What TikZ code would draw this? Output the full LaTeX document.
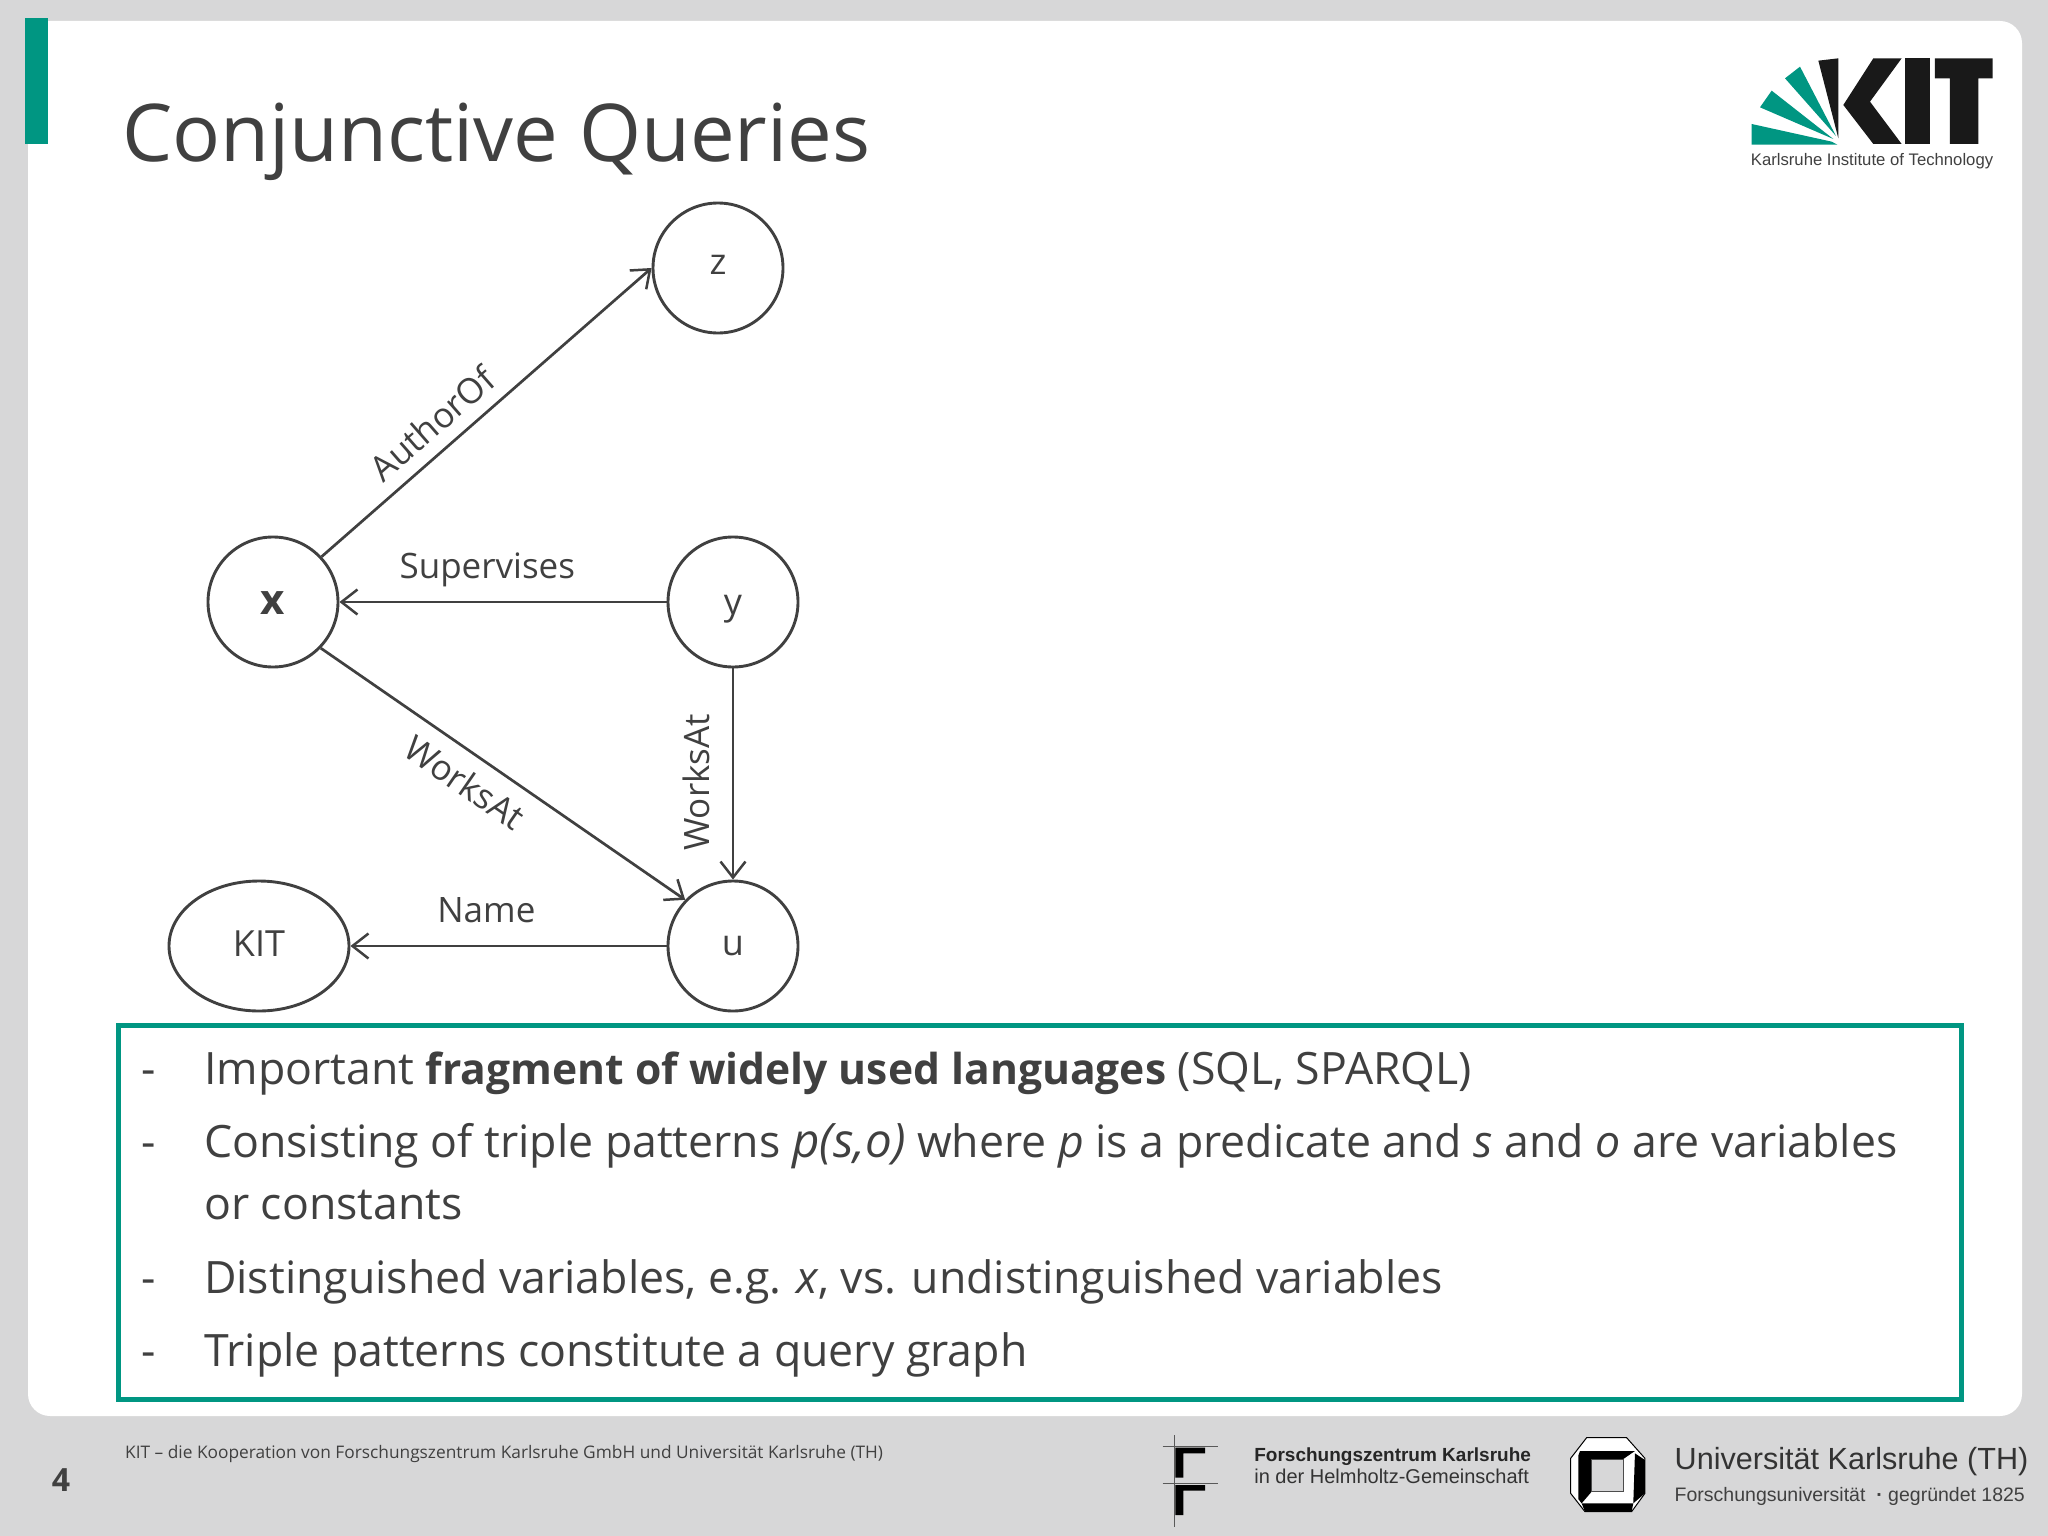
\documentclass[tikz,border=0pt]{standalone}
\usepackage{fontspec}
\setmainfont[Ligatures=NoCommon]{Open Sans}
\newfontfamily\arialf{Liberation Sans}
\usetikzlibrary{arrows.meta,shapes.geometric}
\definecolor{kitgreen}{HTML}{009682}
\definecolor{slidegray}{HTML}{D7D7D8}
\definecolor{inkgray}{HTML}{404040}
\newcommand{\boldrun}[1]{{\fontsize{42.6}{54}\selectfont\bfseries #1}}
\newcommand{\italrun}[1]{{\fontsize{47.5}{54}\selectfont\itshape #1}}
\newcommand{\baseat}[2]{\smash{\raisebox{-#1}{#2}}}
\tikzset{
  vertex/.style={draw=inkgray,line width=2.9pt,circle,minimum size=130pt,inner sep=0pt,font=\fontsize{36}{43}\selectfont,text=inkgray},
  edgeline/.style={draw=inkgray,line width=2.7pt,-{Straight Barb[length=16pt,width=25pt,line width=2.5pt]}},
  elabel/.style={font=\fontsize{35}{42}\selectfont,text=inkgray,inner sep=0pt},
  bodytext/.style={anchor=base west,inner sep=0pt,font=\fontsize{44.6}{54}\selectfont,text=inkgray},
}
\begin{document}
\begin{tikzpicture}[x=1pt,y=-1pt]
\useasboundingbox (0,0) rectangle (2048,1536);
\fill[slidegray] (0,0) rectangle (2048,1536);
\fill[white,rounded corners=22pt] (28,21) -- (2022,21) -- (2022,1416) -- (28,1416) -- cycle;
\fill[white] (28,21) rectangle (100,100);
\fill[kitgreen] (25,18) rectangle (48,144);
\node[anchor=base west,inner sep=0pt,text=inkgray,font=\fontsize{79.7}{96}\selectfont] (title) at (122,161) {Conjunctive Queries};

% logo
\begin{scope}[shift={(1700,30)},x=0.3333pt,y=-0.3333pt]
\fill[kitgreen] (155,282) -- (155,344) -- (412,344) -- (395,335) -- cycle;
\fill[kitgreen] (215,182) -- (180,232) -- (400,327) -- cycle;
\fill[kitgreen] (300,110) -- (255,145) -- (408,318) -- cycle;
\fill[black!90] (355,92) -- (415,85) -- (415,325) -- cycle;
\fill[black!90] (520,85) -- (605,85) -- (510,215) -- (605,342) -- (520,342) -- (430,225) -- cycle;
\fill[black!90] (615,85) rectangle (690,342);
\fill[black!90] (705,85) -- (878,85) -- (878,145) -- (835,145) -- (835,342) -- (750,342) -- (750,145) -- (705,145) -- cycle;
\node[anchor=base west,inner sep=0pt,text=inkgray,font=\arialf\fontsize{16.7}{20}\selectfont] (logotext) at (152,408) {Karlsruhe Institute of Technology};
\end{scope}

% graph
\node[vertex] (z) at (718,268) {\baseat{6.5pt}{z}};
\node[vertex,font=\fontsize{42}{50}\bfseries\selectfont] (x) at (273,602) {\baseat{12pt}{x}};
\node[vertex] (y) at (733,602) {\baseat{12pt}{y}};
\node[vertex] (u) at (733,946) {\baseat{9pt}{u}};
\node[vertex,ellipse,minimum width=180pt,minimum height=130pt] (kit) at (259,946) {\baseat{10pt}{KIT}};

\draw[edgeline] (x.43) -- node[elabel,sloped,above=12.5pt,pos=0.39] (l1) {AuthorOf} (z.180);
\draw[edgeline] (y.west) -- node[elabel,above=14pt,pos=0.548] (l2) {Supervises} (x.east);
\draw[edgeline] (x.-44) -- node[elabel,sloped,below=13.5pt,pos=0.44] (l3) {WorksAt} (u.136);
\draw[edgeline] (y.south) -- node[elabel,rotate=90,anchor=south,outer ysep=23pt,pos=0.54] (l4) {WorksAt} (u.north);
\draw[edgeline] (u.west) -- node[elabel,above=22pt,pos=0.57] (l5) {Name} (kit.east);

% text box
\draw[kitgreen,line width=5pt] (118,1025) rectangle (1961,1399);
\node[bodytext] (d1) at (141,1084) {-};
\node[bodytext] (t1) at (204,1084) {Important \boldrun{fragment of widely used languages} (SQL, SPARQL)};
\node[bodytext] (d2) at (141,1157) {-};
\node[bodytext] (t2) at (204,1157) {Consisting of triple patterns \italrun{p(s,o)} where \textit{p} is a predicate and \textit{s} and \textit{o} are variables};
\node[bodytext] (t2b) at (204,1219) {or constants};
\node[bodytext] (d3) at (141,1293) {-};
\node[bodytext] (t3) at (204,1293) {Distinguished variables, e.g. \textit{x}, vs. undistinguished variables};
\node[bodytext] (d4) at (141,1366) {-};
\node[bodytext] (t4) at (204,1366) {Triple patterns constitute a query graph};

% footer
\node[anchor=base west,inner sep=0pt,text=inkgray,font=\fontsize{17.3}{22}\selectfont] (foot) at (125,1458) {KIT – die Kooperation von Forschungszentrum Karlsruhe GmbH und Universität Karlsruhe (TH)};
\node[anchor=base,inner sep=0pt,text=inkgray,font=\fontsize{32}{40}\bfseries\selectfont] (page) at (61,1491) {4};

\begin{scope}[shift={(1150,1425)},x=0.3333pt,y=-0.3333pt]
% research centre logo
\draw[black!65,line width=1pt] (72,30) -- (72,305) (38,63) -- (205,63) (38,175) -- (205,175);
\fill[black] (76,68) -- (165,68) -- (165,85) -- (100,85) -- (100,158) -- (76,158) -- cycle;
\fill[black] (76,180) -- (165,180) -- (165,197) -- (100,197) -- (100,270) -- (76,270) -- cycle;
% university logo
\fill[white,draw=black,line width=1pt] (1310,38) -- (1430,38) -- (1485,100) -- (1485,205) -- (1445,260) -- (1305,260) -- (1262,205) -- (1262,100) -- cycle;
\fill[black] (1290,78) -- (1455,78) -- (1420,102) -- (1325,102) -- (1325,200) -- (1295,235) -- (1285,222) -- (1285,92) -- cycle;
\fill[black] (1455,85) -- (1485,105) -- (1485,205) -- (1450,235) -- cycle;
\fill[black] (1295,235) -- (1450,235) -- (1445,260) -- (1305,260) -- cycle;
\fill[slidegray,draw=black!70,line width=0.8pt] (1325,102) rectangle (1420,200);
\end{scope}
\begin{scope}[shift={(1130,1400)},x=0.5855pt,y=-0.3333pt]
\node[anchor=base west,inner sep=0pt,text=black!85,font=\arialf\bfseries\fontsize{19}{22}\selectfont] (fz1) at (212,184) {Forschungszentrum Karlsruhe};
\node[anchor=base west,inner sep=0pt,text=black!80,font=\arialf\fontsize{20}{22}\selectfont] (fz2) at (212,249) {in der Helmholtz-Gemeinschaft};
\node[anchor=base west,inner sep=0pt,text=black!80,font=\arialf\fontsize{30.6}{36}\selectfont] (ka1) at (930,209) {Universität Karlsruhe (TH)};
\node[anchor=base west,inner sep=0pt,text=black!75,font=\arialf\fontsize{19.5}{22}\selectfont] (ka2) at (930,304) {Forschungsuniversität \ {\bfseries·}\ gegründet 1825};
\end{scope}
\end{tikzpicture}
\end{document}
